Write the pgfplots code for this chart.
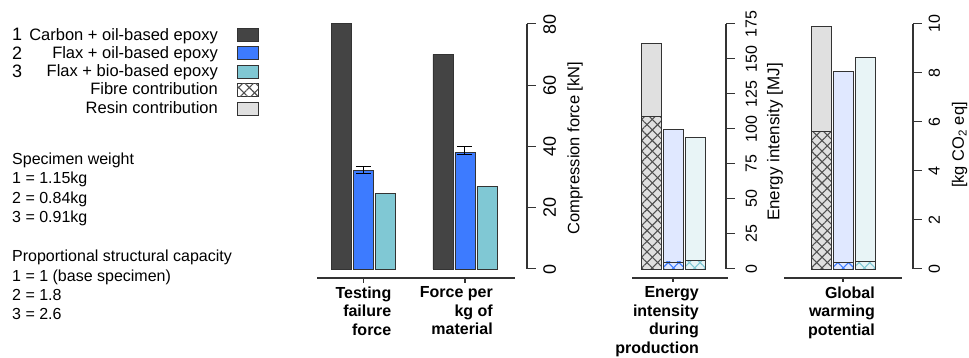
\documentclass[border=0pt]{standalone}
\usepackage{pgfplots}
\pgfplotsset{compat=1.18}
\usepackage{fontspec}
\setmainfont{Liberation Sans}
\usetikzlibrary{patterns.meta}

\definecolor{carbon}{HTML}{444444}
\definecolor{flaxoil}{HTML}{3D7BFF}
\definecolor{flaxbio}{HTML}{80C8D4}
\definecolor{resin}{HTML}{E0E0E0}
\definecolor{resinblue}{HTML}{E0E8FF}
\definecolor{resinteal}{HTML}{E8F4F6}
\definecolor{edge}{HTML}{333333}
\definecolor{hatchgray}{HTML}{505050}

\tikzset{
  hatch/.style={
    postaction={pattern color=#1, pattern={Lines[angle=45,distance=7.5pt,line width=1.1pt]}},
    postaction={pattern color=#1, pattern={Lines[angle=-45,distance=7.5pt,line width=1.1pt]}}},
  axisline/.style={draw=edge, line width=1.1pt},
}

\pgfplotsset{
  panel/.style={
    scale only axis, clip=false,
    axis x line*=bottom, axis y line*=right,
    axis line style={draw=none,-},
    tick align=outside, major tick length=8.5pt,
    ytick style={draw=edge, line width=1pt},
    xtick style={draw=none},
    ybar, bar width=20pt,
    every axis plot/.append style={draw=edge, line width=0.9pt},
    /pgf/number format/assume math mode=true,
    yticklabel style={rotate=90, anchor=north, inner sep=0pt},
    xticklabel style={anchor=north east, align=right, inner sep=0pt,
      font=\bfseries\fontsize{16}{18.5}\selectfont},
    xticklabel shift=9pt,
    ymin=0, height=245pt,
  },
}

\begin{document}
\begin{tikzpicture}
\useasboundingbox (0pt,0pt) rectangle (969pt,358pt);

% ---------- legend ----------
\begin{scope}[font=\fontsize{16.5}{19}\selectfont]
\node[anchor=base west, inner sep=0pt, font=\fontsize{18}{19}\selectfont] at (12pt,317pt) {1};
\node[anchor=base west, inner sep=0pt, font=\fontsize{18}{19}\selectfont] at (12pt,298pt) {2};
\node[anchor=base west, inner sep=0pt, font=\fontsize{18}{19}\selectfont] at (12pt,280pt) {3};
\node[anchor=base east, inner sep=0pt] at (218pt,317pt) {Carbon + oil-based epoxy};
\node[anchor=base east, inner sep=0pt] at (218pt,299pt) {Flax + oil-based epoxy};
\node[anchor=base east, inner sep=0pt] at (218pt,281pt) {Flax + bio-based epoxy};
\node[anchor=base east, inner sep=0pt] at (218pt,263pt) {Fibre contribution};
\node[anchor=base east, inner sep=0pt] at (218pt,244pt) {Resin contribution};
\draw[draw=edge, line width=0.9pt, fill=carbon] (237pt,317pt) rectangle (258pt,330pt);
\draw[draw=edge, line width=0.9pt, fill=flaxoil] (237pt,298.5pt) rectangle (258pt,311.5pt);
\draw[draw=edge, line width=0.9pt, fill=flaxbio] (237pt,280pt) rectangle (258pt,293pt);
\draw[draw=edge, line width=0.9pt, fill=white, hatch=hatchgray] (237pt,261.5pt) rectangle (258pt,274.5pt);
\draw[draw=edge, line width=0.9pt, fill=resin] (237pt,243pt) rectangle (258pt,256pt);
\end{scope}
\begin{scope}[font=\fontsize{16}{19}\selectfont]
\node[anchor=base west, inner sep=0pt] at (12pt,193pt) {Specimen weight};
\node[anchor=base west, inner sep=0pt] at (12pt,174pt) {1 = 1.15kg};
\node[anchor=base west, inner sep=0pt] at (12pt,154.5pt) {2 = 0.84kg};
\node[anchor=base west, inner sep=0pt] at (12pt,135pt) {3 = 0.91kg};
\node[anchor=base west, inner sep=0pt] at (12pt,96pt) {Proportional structural capacity};
\node[anchor=base west, inner sep=0pt] at (12pt,76.5pt) {1 = 1 (base specimen)};
\node[anchor=base west, inner sep=0pt] at (12pt,57pt) {2 = 1.8};
\node[anchor=base west, inner sep=0pt] at (12pt,38pt) {3 = 2.6};
\end{scope}

% ---------- panel 1: compression force ----------
\begin{axis}[panel,
  at={(317pt,89pt)}, anchor=south west, width=210pt,
  xmin=0.542, xmax=2.611, ymax=80,
  ytick={0,20,40,60,80},
  yticklabel shift=7.5pt,
  tick label style={font=\fontsize{18}{18}\selectfont},
  xtick={1,2},
  xticklabels={{Testing\\failure\\force},{Force per\\kg of\\material}},
  xticklabel style={xshift=28pt, font=\bfseries\fontsize{16}{18.5}\selectfont},
  ylabel={Compression force [kN]},
  every axis y label/.style={at={(axis description cs:1.2286,0.494)}, rotate=90, anchor=center, font=\fontsize{16.5}{17}\selectfont},
]
\addplot[fill=carbon, bar shift=-22pt] coordinates {(1,80.3) (2,70.1)};
\addplot[fill=flaxoil, bar shift=0pt,
  error bars/.cd, y dir=both, y explicit,
  error bar style={draw=black, line width=1pt},
  error mark options={rotate=90, mark size=7.5pt, line width=1pt, draw=black}]
  coordinates {(1,32.1) += (0,1.5) -= (0,0.8) (2,38.2) += (0,1.8) -= (0,0.9)};
\addplot[fill=flaxbio, bar shift=22pt] coordinates {(1,24.6) (2,26.9)};
\draw[axisline] (axis cs:2.611,0) -- (axis cs:2.611,80);
\draw[axisline] (axis cs:0.542,-2.94) -- (axis cs:2.493,-2.94);
\draw[axisline] (axis cs:1,-2.94) -- ++(0pt,-4.5pt);
\draw[axisline] (axis cs:2,-2.94) -- ++(0pt,-4.5pt);
\end{axis}

% ---------- panel 2: energy intensity ----------
\begin{axis}[panel,
  at={(632pt,89pt)}, anchor=south west, width=94pt,
  xmin=0.136, xmax=4.409, ymax=175,
  ytick={0,25,50,75,100,125,150,175},
  yticklabel shift=11pt,
  tick label style={font=\fontsize{16}{16}\selectfont},
  xtick={2},
  xticklabels={{Energy\\intensity\\during\\production}},
  xticklabel style={xshift=26pt, font=\bfseries\fontsize{16}{18.5}\selectfont},
  ylabel={Energy intensity [MJ]},
  every axis y label/.style={at={(axis description cs:1.521,0.518)}, rotate=90, anchor=center, font=\fontsize{17}{17}\selectfont},
]
\addplot[fill=resin, bar shift=0pt] coordinates {(1,161)};
\addplot[fill=resin, bar shift=0pt, hatch=hatchgray] coordinates {(1,109)};
\addplot[fill=resinblue, bar shift=0pt] coordinates {(2,100)};
\addplot[fill=resinblue, bar shift=0pt, hatch=flaxoil] coordinates {(2,5)};
\addplot[fill=resinteal, bar shift=0pt] coordinates {(3,94)};
\addplot[fill=resinteal, bar shift=0pt, hatch=flaxbio] coordinates {(3,6.4)};
\draw[axisline] (axis cs:4.409,0) -- (axis cs:4.409,175);
\draw[axisline] (axis cs:0.136,-6.43) -- (axis cs:4.5,-6.43);
\draw[axisline] (axis cs:2,-6.43) -- ++(0pt,-4.5pt);
\end{axis}

% ---------- panel 3: global warming potential ----------
\begin{axis}[panel,
  at={(784pt,89pt)}, anchor=south west, width=129pt,
  xmin=-0.682, xmax=5.182, ymax=10,
  ytick={0,2,4,6,8,10},
  yticklabel shift=7pt,
  tick label style={font=\fontsize{16}{16}\selectfont},
  xtick={2},
  xticklabels={{Global\\warming\\potential}},
  xticklabel style={xshift=32pt, font=\bfseries\fontsize{16}{18.5}\selectfont},
  ylabel={[kg CO\textsubscript{2} eq]},
  every axis y label/.style={at={(axis description cs:1.362,0.506)}, rotate=90, anchor=center, font=\fontsize{16.5}{17}\selectfont},
]
\addplot[fill=resin, bar shift=0pt] coordinates {(1,9.9)};
\addplot[fill=resin, bar shift=0pt, hatch=hatchgray] coordinates {(1,5.63)};
\addplot[fill=resinblue, bar shift=0pt] coordinates {(2,8.08)};
\addplot[fill=resinblue, bar shift=0pt, hatch=flaxoil] coordinates {(2,0.26)};
\addplot[fill=resinteal, bar shift=0pt] coordinates {(3,8.65)};
\addplot[fill=resinteal, bar shift=0pt, hatch=flaxbio] coordinates {(3,0.32)};
\draw[axisline] (axis cs:5.182,0) -- (axis cs:5.182,10);
\draw[axisline] (axis cs:-0.682,-0.367) -- (axis cs:4.682,-0.367);
\draw[axisline] (axis cs:2,-0.367) -- ++(0pt,-4.5pt);
\end{axis}
\end{tikzpicture}
\end{document}
